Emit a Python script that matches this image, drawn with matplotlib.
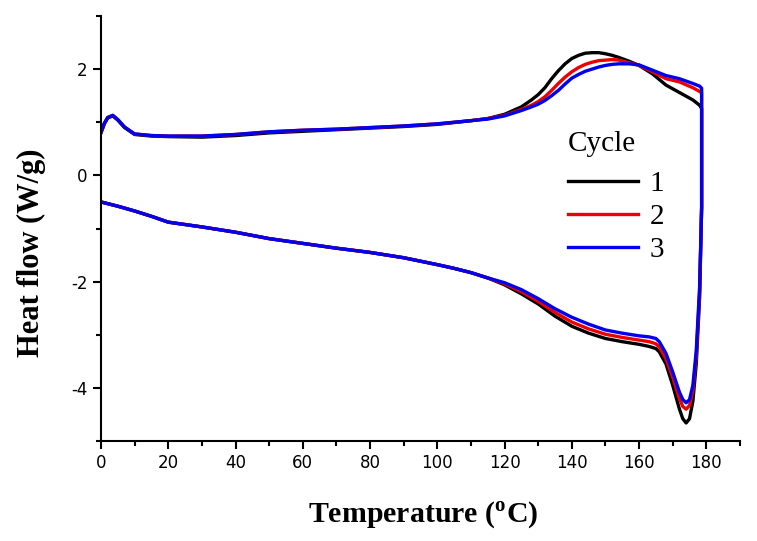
import matplotlib.pyplot as plt
from matplotlib.ticker import MultipleLocator

# heating run (lower branch), temperature in C
t_heat = [0, 5, 10, 15, 20, 30, 40, 50, 60, 70, 80, 90, 100, 105, 110, 115,
          120, 125, 130, 135, 140, 145, 150, 155, 160, 163, 165, 166, 168,
          170, 172, 173, 174, 175, 176, 177, 178, 178.6]
# cooling run (upper branch)
t_cool = [178.6, 178, 176, 172, 168, 164, 160, 157, 154, 152, 150, 148, 146,
          144, 142, 140, 138, 136, 134, 132, 130, 128, 125, 120, 115, 110,
          100, 90, 80, 70, 60, 50, 40, 30, 20, 15, 10, 7, 5, 3.5, 2, 1, 0]

heat_1 = [-0.50, -0.58, -0.67, -0.77, -0.88, -0.97, -1.07, -1.19, -1.28, -1.37,
          -1.45, -1.55, -1.68, -1.75, -1.83, -1.93, -2.06, -2.23, -2.42, -2.65,
          -2.84, -2.97, -3.07, -3.13, -3.18, -3.22, -3.26, -3.32, -3.55, -3.95,
          -4.40, -4.58, -4.66, -4.58, -4.25, -3.55, -2.30, -0.60]
heat_2 = [-0.50, -0.58, -0.67, -0.77, -0.88, -0.97, -1.07, -1.19, -1.28, -1.37,
          -1.45, -1.55, -1.68, -1.75, -1.83, -1.93, -2.04, -2.19, -2.37, -2.58,
          -2.76, -2.89, -2.99, -3.05, -3.10, -3.13, -3.17, -3.23, -3.45, -3.80,
          -4.20, -4.35, -4.40, -4.33, -4.05, -3.40, -2.20, -0.60]
heat_3 = [-0.50, -0.58, -0.67, -0.77, -0.88, -0.97, -1.07, -1.19, -1.28, -1.37,
          -1.45, -1.55, -1.68, -1.75, -1.83, -1.93, -2.02, -2.15, -2.32, -2.51,
          -2.67, -2.80, -2.91, -2.97, -3.02, -3.04, -3.07, -3.13, -3.35, -3.70,
          -4.08, -4.22, -4.28, -4.22, -3.95, -3.30, -2.10, -0.60]

cool_1 = [1.26, 1.32, 1.42, 1.56, 1.70, 1.91, 2.07, 2.15, 2.22, 2.26, 2.29,
          2.31, 2.31, 2.30, 2.26, 2.20, 2.10, 1.97, 1.82, 1.65, 1.52, 1.42,
          1.29, 1.15, 1.07, 1.03, 0.96, 0.92, 0.89, 0.86, 0.83, 0.80, 0.75,
          0.72, 0.73, 0.74, 0.77, 0.90, 1.04, 1.12, 1.08, 0.97, 0.80]
cool_2 = [1.55, 1.58, 1.65, 1.76, 1.82, 1.95, 2.07, 2.12, 2.17, 2.18, 2.17,
          2.16, 2.13, 2.09, 2.03, 1.95, 1.85, 1.73, 1.60, 1.48, 1.39, 1.32,
          1.24, 1.13, 1.07, 1.03, 0.97, 0.93, 0.90, 0.87, 0.85, 0.82, 0.77,
          0.74, 0.74, 0.75, 0.78, 0.91, 1.05, 1.13, 1.09, 0.98, 0.81]
cool_3 = [1.64, 1.68, 1.73, 1.82, 1.88, 1.98, 2.08, 2.10, 2.10, 2.09, 2.07,
          2.04, 2.00, 1.96, 1.90, 1.83, 1.72, 1.60, 1.50, 1.41, 1.34, 1.29,
          1.22, 1.12, 1.06, 1.03, 0.97, 0.93, 0.90, 0.87, 0.85, 0.82, 0.77,
          0.74, 0.74, 0.75, 0.78, 0.91, 1.05, 1.13, 1.09, 0.98, 0.81]

labels = ["1", "2", "3"]
colors = ["black", "#ee0000", "#0000ee"]

plt.rcParams['mathtext.fontset'] = 'custom'
plt.rcParams['mathtext.bf'] = 'Liberation Serif:bold'
plt.rcParams['mathtext.rm'] = 'Liberation Serif'
plt.rcParams['axes.unicode_minus'] = False

fig = plt.figure(figsize=(7.57, 5.41), dpi=100)
ax = fig.add_axes([0.1334, 0.1848, 0.8441, 0.7856])

for heat, cool, lab, c in zip([heat_1, heat_2, heat_3], [cool_1, cool_2, cool_3], labels, colors):
    ax.plot(t_heat + t_cool, heat + cool, color=c, lw=2.4, label=lab)

ax.set_xlim(0, 190)
ax.set_ylim(-5, 3)
ax.xaxis.set_major_locator(MultipleLocator(20))
ax.xaxis.set_minor_locator(MultipleLocator(10))
ax.yaxis.set_major_locator(MultipleLocator(2))
ax.yaxis.set_minor_locator(MultipleLocator(1))
ax.spines['top'].set_visible(False)
ax.spines['right'].set_visible(False)
for s in ['left', 'bottom']:
    ax.spines[s].set_linewidth(1.5)
ax.tick_params(which='major', direction='out', length=6, width=1.5, labelsize=12)
ax.tick_params(which='minor', direction='out', length=3.5, width=1.5)

ax.set_xlabel(r"Temperature ($^{\mathbf{o}}$C)", family="Liberation Serif",
              fontweight="bold", fontsize=21.5)
ax.set_ylabel("Heat flow (W/g)", family="Liberation Serif",
              fontweight="bold", fontsize=22)
ax.xaxis.set_label_coords(0.505, -0.138)
ax.yaxis.set_label_coords(-0.086, 0.442)

leg = ax.legend(title="Cycle", loc="upper left", bbox_to_anchor=(0.731, 0.73),
                frameon=False, prop={'family': 'Liberation Serif', 'size': 21},
                handlelength=2.4, handletextpad=0.4, labelspacing=0.22,
                borderpad=0, borderaxespad=0)
leg.get_title().set_fontfamily('Liberation Serif')
leg.get_title().set_fontsize(21)
leg._legend_box.align = "left"
leg._legend_box.sep = 10  # extra gap between title and entries

plt.savefig("out.png", dpi=100)
